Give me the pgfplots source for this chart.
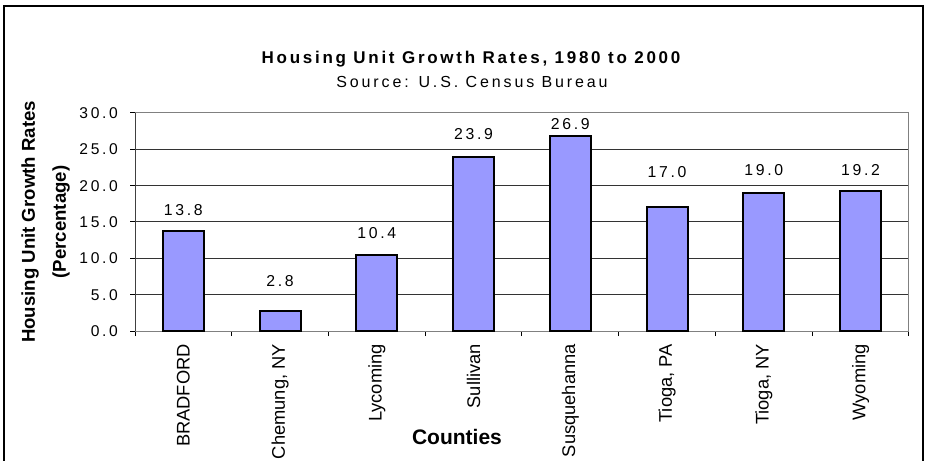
\documentclass[border=0pt]{standalone}
\usepackage{pgfplots}
\pgfplotsset{compat=1.18}
\usepackage{fontspec}
\setmainfont{Liberation Sans}
\newfontfamily\titlefont[LetterSpace=16]{Liberation Sans}
\newfontfamily\subfont[LetterSpace=18]{Liberation Sans}
\newfontfamily\spacedtick[LetterSpace=17]{Liberation Sans}
\definecolor{barfill}{RGB}{153,153,255}
\definecolor{framegray}{RGB}{128,128,128}
\begin{document}
\begin{tikzpicture}
\useasboundingbox (0,0) rectangle (927bp,461bp);
\draw[line width=2bp] (4bp,0) -- (4bp,455bp) -- (923bp,455bp) -- (923bp,0);
\node[anchor=base, inner sep=0] at (471bp,397bp) {\titlefont\bfseries\fontsize{17bp}{19bp}\selectfont Housing Unit Growth Rates, 1980 to 2000};
\node[anchor=base, inner sep=0] at (472bp,373bp) {\subfont\fontsize{16bp}{18bp}\selectfont Source: U.S. Census Bureau};
\begin{axis}[
  at={(135bp,130bp)}, anchor=south west, scale only axis,
  width=774bp, height=218bp,
  xmin=-0.5, xmax=7.5, ymin=0, ymax=30,
  xtick={-0.5,0.5,...,7.5}, xticklabels={},
  extra x ticks={0,1,2,3,4,5,6,7},
  extra x tick labels={BRADFORD,{Chemung, NY},Lycoming,Sullivan,Susquehanna,{Tioga, PA},{Tioga, NY},Wyoming},
  extra x tick style={major tick length=0pt, grid=none},
  ytick={0,5,...,30},
  xtick pos=bottom, ytick pos=left,
  tick align=outside,
  major tick length=5bp,
  tick style={black, line width=1bp},
  axis line style={framegray, line width=1bp},
  ymajorgrids, major grid style={black!80, line width=1bp},
  /pgf/number format/assume math mode=true,
  yticklabel style={/pgf/number format/.cd, fixed, fixed zerofill, precision=1, /tikz/.cd,
     font=\spacedtick\fontsize{15.6bp}{18bp}\selectfont, anchor=east, inner sep=0pt},
  xticklabel style={font=\fontsize{18.3bp}{22bp}\selectfont, rotate=90, anchor=east, inner sep=0pt},
  xticklabel shift=13bp,
  yticklabel shift=12bp,
  xlabel={Counties},
  xlabel style={font=\bfseries\fontsize{21bp}{24bp}\selectfont, at={(axis description cs:0.416,-0.486)}, anchor=center, inner sep=0pt},
  ylabel={Housing Unit Growth Rates\\(Percentage)},
  ylabel style={font=\bfseries\fontsize{18.6bp}{31bp}\selectfont, align=center, at={(axis description cs:-0.1154,0.5)}, anchor=center, inner sep=0pt},
  clip=false,
]
\addplot[ybar, bar width=41bp, fill=barfill, draw=black, line width=2bp]
  coordinates {(0,13.8) (1,2.8) (2,10.4) (3,23.9) (4,26.9) (5,17.0) (6,19.0) (7,19.2)};
\addplot[draw=none, mark=none, nodes near coords, point meta=explicit symbolic,
  every node near coord/.append style={anchor=center, inner sep=0pt, font=\spacedtick\fontsize{15.8bp}{18bp}\selectfont}]
  coordinates {(0,16.65)[13.8] (1,6.88)[2.8] (2,13.5)[10.4] (3,27.1)[23.9] (4,28.5)[26.9] (5,21.9)[17.0] (6,22.2)[19.0] (7,22.2)[19.2]};
\draw[black!75, line width=1bp] (axis cs:-0.5,0) -- (axis cs:-0.5,30);
\end{axis}
\end{tikzpicture}
\end{document}
